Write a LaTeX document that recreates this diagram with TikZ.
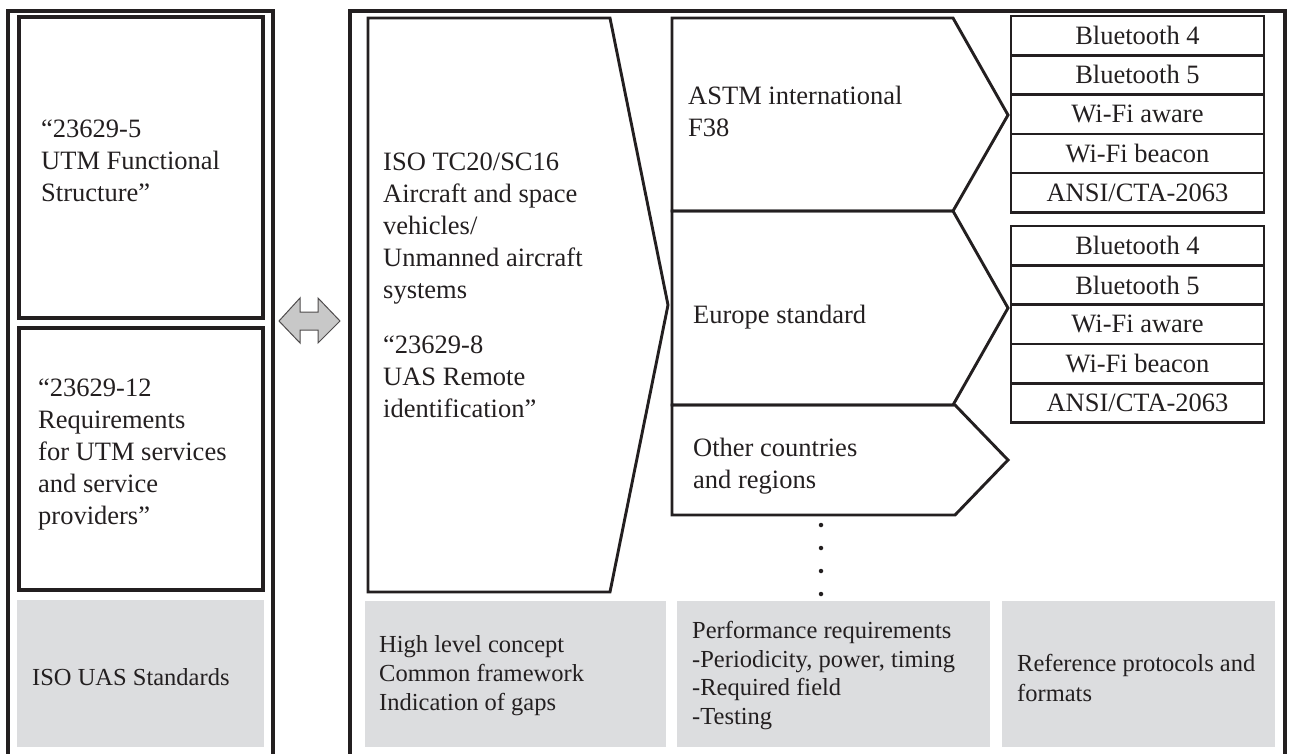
\documentclass[tikz,border=0pt]{standalone}
\usepackage{fontspec}
\setmainfont{Liberation Serif}
\definecolor{boxgray}{RGB}{220,221,223}
\definecolor{arrowgray}{RGB}{200,200,200}
\definecolor{ink}{RGB}{35,31,32}
\begin{document}
\begin{tikzpicture}[x=1pt,y=-1pt, line join=miter,
  frame/.style={line width=3.2pt, draw=ink},
  shp/.style={line width=2.9pt, draw=ink},
  txt/.style={inner sep=0pt, anchor=west, align=left, text=ink, font=\fontsize{26.5}{32}\selectfont},
  gtxt/.style={inner sep=0pt, anchor=west, align=left, text=ink, font=\fontsize{24.5}{29}\selectfont},
  graybox/.style={fill=boxgray, draw=none},
  cell/.style={draw=ink, line width=2.6pt, minimum width=253pt, minimum height=39.3pt, inner sep=0pt, text=ink, font=\fontsize{26.5}{32}\selectfont},
  dot/.style={circle, fill=ink, inner sep=0pt, minimum size=4.5pt},
]
\useasboundingbox (0,0) rectangle (1290,753);
\clip (0,0) rectangle (1290,753);

% outer frames
\draw[frame] (8,765) -- (8,11) -- (273,11) -- (273,765);
\draw[frame] (350,765) -- (350,11) -- (1285,11) -- (1285,765);

% left column boxes
\draw[frame] (19,17) rectangle (263,318);
\draw[frame] (19,328) rectangle (263,590);
\fill[boxgray] (17,600) rectangle (264,747);

\node[txt] (t5) at (41,161) {“23629-5\\UTM Functional\\Structure”};
\node[txt] (t12) at (38,454) {“23629-12\\Requirements\\for UTM services\\and service\\providers”};
\node[gtxt] (tiso) at (32,677) {ISO UAS Standards};

% double arrow
\draw[fill=arrowgray, draw=ink!80, line width=1pt]
  (279,321) -- (300,298) -- (300,312) -- (318,312) -- (318,298) -- (340,321)
  -- (318,343) -- (318,330) -- (300,330) -- (300,343) -- cycle;

% ISO shape
\draw[shp] (368,18) -- (610,18) -- (668,305) -- (610,592) -- (368,592) -- cycle;
\node[txt] (iso1) at (383,229) {ISO TC20/SC16\\Aircraft and space\\vehicles/\\Unmanned aircraft\\systems};
\node[txt] (iso2) at (383,377) {“23629-8\\UAS Remote\\identification”};

% regional pentagons
\draw[shp] (672,18) -- (953,18) -- (1008,115) -- (953,211) -- (672,211) -- cycle;
\draw[shp] (672,211) -- (953,211) -- (1008,308) -- (953,405) -- (672,405) -- cycle;
\draw[shp] (672,405) -- (955,405) -- (1008,460) -- (955,515) -- (672,515) -- cycle;
\node[txt] (astm) at (688,111.5) {ASTM international\\F38};
\node[txt] (europe) at (693,317) {Europe standard};
\node[txt] (other) at (693,466) {Other countries\\and regions};

% dots
\node[dot] (d1) at (821,525) {};
\node[dot] (d2) at (821,548) {};
\node[dot] (d3) at (821,571) {};
\node[dot] (d4) at (821,594) {};

% protocol tables
\node[cell] (a1) at (1137.5,35.6) {Bluetooth 4};
\node[cell] (a2) at (1137.5,74.9) {Bluetooth 5};
\node[cell] (a3) at (1137.5,114.2) {Wi-Fi aware};
\node[cell] (a4) at (1137.5,153.5) {Wi-Fi beacon};
\node[cell] (a5) at (1137.5,192.8) {ANSI/CTA-2063};

\node[cell] (b1) at (1137.5,245.7) {Bluetooth 4};
\node[cell] (b2) at (1137.5,285.0) {Bluetooth 5};
\node[cell] (b3) at (1137.5,324.3) {Wi-Fi aware};
\node[cell] (b4) at (1137.5,363.6) {Wi-Fi beacon};
\node[cell] (b5) at (1137.5,402.9) {ANSI/CTA-2063};

% bottom gray boxes
\fill[boxgray] (365,601) rectangle (666,747);
\fill[boxgray] (677,601) rectangle (990,747);
\fill[boxgray] (1002,601) rectangle (1275,747);
\node[gtxt] (ga) at (379,676) {High level concept\\Common framework\\Indication of gaps};
\node[gtxt, font=\fontsize{24.5}{28.5}\selectfont] (gb) at (692,675.5) {Performance requirements\\-Periodicity, power, timing\\-Required field\\-Testing};
\node[gtxt, font=\fontsize{24.5}{30}\selectfont] (gc) at (1017,678) {Reference protocols and\\formats};
\end{tikzpicture}
\end{document}
